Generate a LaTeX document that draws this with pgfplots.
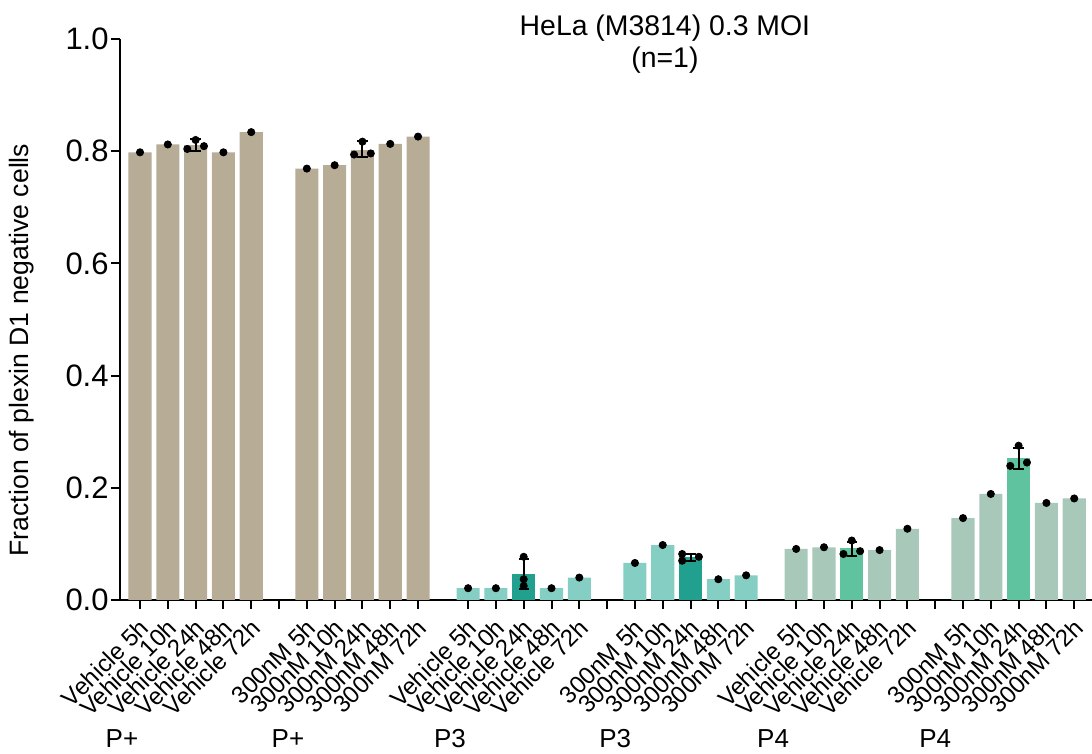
\documentclass[border=0pt]{standalone}
\usepackage{pgfplots}
\pgfplotsset{compat=1.18}
\usepackage{fontspec}
\setmainfont{Liberation Sans}
\definecolor{tan}{RGB}{183,172,150}
\definecolor{ptlight}{RGB}{132,206,196}
\definecolor{ptdark}{RGB}{33,160,144}
\definecolor{pflight}{RGB}{168,200,186}
\definecolor{pfmid}{RGB}{96,195,160}
\begin{document}
\begin{tikzpicture}
\begin{axis}[
  at={(0,0)}, anchor=south west,
  scale only axis, width=486pt, height=280.5pt,
  xmin=-0.72, xmax=34.24, ymin=0, ymax=1,
  axis lines=left, axis line style={line width=1.2pt, -},
  clip=false,
  tick align=outside,
  major tick length=4.5pt,
  every tick/.style={black, line width=1pt},
  ytick={0,0.2,0.4,0.6,0.8,1.0},
  yticklabel style={/pgf/number format/fixed, /pgf/number format/precision=1, /pgf/number format/fixed zerofill, /pgf/number format/assume math mode=true, font=\fontsize{15.5}{18}\selectfont, inner sep=1pt},
  xtick={0,1,2,3,4,5,6,7,8,9,10,11.8,12.8,13.8,14.8,15.8,16.8,17.8,18.8,19.8,20.8,21.8,23.6,24.6,25.6,26.6,27.6,28.6,29.6,30.6,31.6,32.6,33.6},
  xticklabels={Vehicle 5h,Vehicle 10h,Vehicle 24h,Vehicle 48h,Vehicle 72h,,300nM 5h,300nM 10h,300nM 24h,300nM 48h,300nM 72h,Vehicle 5h,Vehicle 10h,Vehicle 24h,Vehicle 48h,Vehicle 72h,,300nM 5h,300nM 10h,300nM 24h,300nM 48h,300nM 72h,Vehicle 5h,Vehicle 10h,Vehicle 24h,Vehicle 48h,Vehicle 72h,,300nM 5h,300nM 10h,300nM 24h,300nM 48h,300nM 72h},
  xticklabel style={font=\fontsize{12}{14}\selectfont, inner sep=1pt, xshift=-1pt, yshift=-2.5pt, rotate=45, anchor=north east},
]
% bars
\addplot[ybar, bar shift=0pt, bar width=0.83, fill=tan, draw=none] coordinates {(0,0.798) (1,0.812) (2,0.811) (3,0.798) (4,0.834)};
\addplot[ybar, bar shift=0pt, bar width=0.83, fill=tan, draw=none] coordinates {(6,0.769) (7,0.775) (8,0.802) (9,0.813) (10,0.826)};
\addplot[ybar, bar shift=0pt, bar width=0.83, fill=ptlight, draw=none] coordinates {(11.8,0.021) (12.8,0.021) (14.8,0.021) (15.8,0.040)};
\addplot[ybar, bar shift=0pt, bar width=0.83, fill=ptdark, draw=none] coordinates {(13.8,0.046)};
\addplot[ybar, bar shift=0pt, bar width=0.83, fill=ptlight, draw=none] coordinates {(17.8,0.066) (18.8,0.098) (20.8,0.037) (21.8,0.044)};
\addplot[ybar, bar shift=0pt, bar width=0.83, fill=ptdark, draw=none] coordinates {(19.8,0.076)};
\addplot[ybar, bar shift=0pt, bar width=0.83, fill=pflight, draw=none] coordinates {(23.6,0.091) (24.6,0.094) (26.6,0.089) (27.6,0.127)};
\addplot[ybar, bar shift=0pt, bar width=0.83, fill=pfmid, draw=none] coordinates {(25.6,0.092)};
\addplot[ybar, bar shift=0pt, bar width=0.83, fill=pflight, draw=none] coordinates {(29.6,0.146) (30.6,0.189) (32.6,0.173) (33.6,0.181)};
\addplot[ybar, bar shift=0pt, bar width=0.83, fill=pfmid, draw=none] coordinates {(31.6,0.253)};
% error bars
\addplot[draw=none, mark=none, error bars/.cd, y dir=both, y explicit, error bar style={line width=1pt, black}, error mark options={rotate=90, mark size=2.6pt, line width=1pt, black}]
 coordinates {(2,0.811) +- (0,0.010) (8,0.804) +- (0,0.015) (13.8,0.046) +- (0,0.027) (19.8,0.076) +- (0,0.006) (25.6,0.091) +- (0,0.012) (31.6,0.252) +- (0,0.019)};
% points
\addplot[only marks, mark=*, mark size=1.8pt, black] coordinates {
(0,0.798) (1,0.812) (1.7,0.804) (2,0.820) (2.3,0.809) (3,0.798) (4,0.834)
(6,0.769) (7,0.775) (7.7,0.794) (8,0.817) (8.3,0.796) (9,0.813) (10,0.826)
(11.8,0.021) (12.8,0.021) (13.8,0.077) (13.8,0.037) (13.8,0.025) (14.8,0.021) (15.8,0.040)
(17.8,0.066) (18.8,0.098) (19.5,0.082) (19.5,0.070) (20.1,0.077) (20.8,0.037) (21.8,0.044)
(23.6,0.091) (24.6,0.094) (25.3,0.082) (25.6,0.106) (25.9,0.087) (26.6,0.089) (27.6,0.127)
(29.6,0.146) (30.6,0.189) (31.3,0.239) (31.6,0.275) (31.9,0.245) (32.6,0.173) (33.6,0.181)};
% texts
\node[font=\fontsize{14.2}{17}\selectfont, anchor=base] at (axis cs:18.88,1) [yshift=1.5pt] {HeLa (M3814) 0.3 MOI};
\node[font=\fontsize{14.2}{17}\selectfont, anchor=base] at (axis cs:18.88,1) [yshift=-14.5pt] {(n=1)};
\node[font=\fontsize{13.3}{15}\selectfont, xshift=-49pt, rotate=90, anchor=center] at (rel axis cs:0,0.4456) {Fraction of plexin D1 negative cells};
\foreach \gx/\gl in {-0.65/P+, 5.32/P+, 11.15/P3, 17.09/P3, 22.77/P4, 28.6/P4}
  {\edef\tmp{\noexpand\node[font=\noexpand\fontsize{13}{15}\noexpand\selectfont, anchor=base] at (axis cs:\gx,0) [yshift=-74pt] {\gl};}\tmp}
\end{axis}
\pgfresetboundingbox
\path[use as bounding box] (-60pt,-77pt) rectangle (486pt,300pt);
\end{tikzpicture}
\end{document}
